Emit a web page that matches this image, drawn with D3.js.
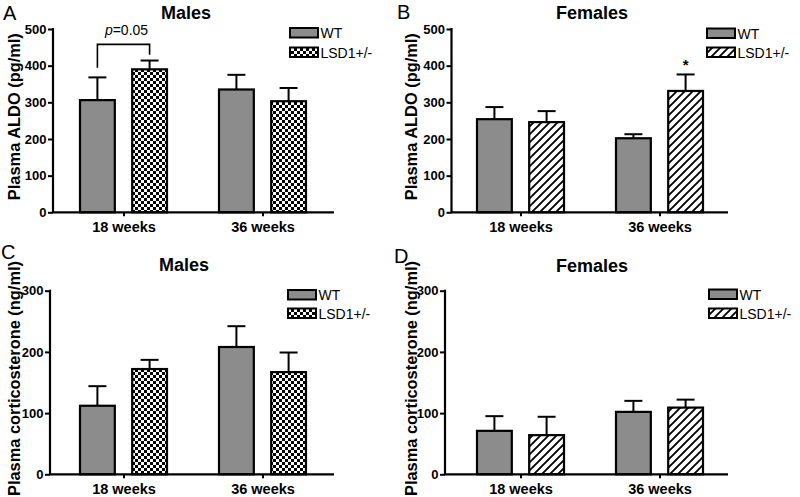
<!DOCTYPE html>
<html><head><meta charset="utf-8">
<script src="https://cdn.jsdelivr.net/npm/d3@7"></script>
<style>
html,body{margin:0;padding:0;background:#fff;}
svg{display:block;font-family:"Liberation Sans",Arial,sans-serif;}
</style></head>
<body>
<svg id="chart" width="800" height="497"></svg>
<script>
// ---- data ----
const categories = ["18 weeks", "36 weeks"];
const groups = ["WT", "LSD1+/-"];
const aldoTicks = [0, 100, 200, 300, 400, 500];
const corticoTicks = [0, 100, 200, 300];

const aldoMalesWT = [306, 335];
const aldoMalesWTErr = [62, 40];
const aldoMalesLSD = [390, 303];
const aldoMalesLSDErr = [24, 36];

const aldoFemalesWT = [254, 202];
const aldoFemalesWTErr = [33, 11];
const aldoFemalesLSD = [246, 331];
const aldoFemalesLSDErr = [30, 45];

const corticoMalesWT = [112, 208];
const corticoMalesWTErr = [32, 34];
const corticoMalesLSD = [172, 167];
const corticoMalesLSDErr = [15, 32];

const corticoFemalesWT = [71, 102];
const corticoFemalesWTErr = [24, 18];
const corticoFemalesLSD = [64, 109];
const corticoFemalesLSDErr = [30, 13];

// significance bracket panel A (values): top, left leg end, right leg end
const bracketA = {top: 458, left: 394, right: 430, label: "0.05"};

// ---- drawing ----
const svg = d3.select("#chart");
const defs = svg.append("defs");

// checker pattern
const chk = defs.append("pattern").attr("id", "checker")
  .attr("patternUnits", "userSpaceOnUse").attr("width", 6).attr("height", 6);
chk.append("rect").attr("width", 6).attr("height", 6).attr("fill", "#fff");
chk.append("rect").attr("width", 3).attr("height", 3).attr("fill", "#000");
chk.append("rect").attr("x", 3).attr("y", 3).attr("width", 3).attr("height", 3).attr("fill", "#000");

// hatch pattern
const hs = 8;
const hat = defs.append("pattern").attr("id", "hatch")
  .attr("patternUnits", "userSpaceOnUse").attr("width", hs).attr("height", hs);
hat.append("rect").attr("width", hs).attr("height", hs).attr("fill", "#fff");
hat.append("path").attr("d", `M0,${hs} L${hs},0 M-2,2 L2,-2 M${hs-2},${hs+2} L${hs+2},${hs-2}`)
  .attr("stroke", "#000").attr("stroke-width", 1.9);

const GRAY = "#8c8c8c";

const panels = [
  {letter: "A", lx: 3, ly: 20, title: "Males", tx: 186, ty: 19,
   ylabel: "Plasma ALDO (pg/ml)", ylx: 20, yaxis: 53, xr: [54, 332], xend: 334,
   yr: [212.3, 29], domain: [0, 500], ticks: aldoTicks,
   wt: aldoMalesWT, wtErr: aldoMalesWTErr, lsd: aldoMalesLSD, lsdErr: aldoMalesLSDErr,
   pat: "checker", legX: 290, legY: [28, 47.5], bracket: bracketA},
  {letter: "B", lx: 397, ly: 19, title: "Females", tx: 592, ty: 19,
   ylabel: "Plasma ALDO (pg/ml)", ylx: 417, yaxis: 451.5, xr: [451, 729], xend: 728,
   yr: [212.3, 29], domain: [0, 500], ticks: aldoTicks,
   wt: aldoFemalesWT, wtErr: aldoFemalesWTErr, lsd: aldoFemalesLSD, lsdErr: aldoFemalesLSDErr,
   pat: "hatch", legX: 707, legY: [28.5, 47.5], star: 1},
  {letter: "C", lx: 1, ly: 259, title: "Males", tx: 184, ty: 270.5,
   ylabel: "Plasma corticosterone (ng/ml)", ylx: 20, yaxis: 50, xr: [54, 332], xend: 334,
   yr: [474.3, 290.7], domain: [0, 300], ticks: corticoTicks,
   wt: corticoMalesWT, wtErr: corticoMalesWTErr, lsd: corticoMalesLSD, lsdErr: corticoMalesLSDErr,
   pat: "checker", legX: 288, legY: [290, 308.5]},
  {letter: "D", lx: 394, ly: 263, title: "Females", tx: 592, ty: 272,
   ylabel: "Plasma corticosterone (ng/ml)", ylx: 417, yaxis: 445, xr: [451, 729], xend: 728,
   yr: [474.3, 290.7], domain: [0, 300], ticks: corticoTicks,
   wt: corticoFemalesWT, wtErr: corticoFemalesWTErr, lsd: corticoFemalesLSD, lsdErr: corticoFemalesLSDErr,
   pat: "hatch", legX: 709, legY: [289.5, 308.5]}
];

panels.forEach(p => {
  const g = svg.append("g");
  const x = d3.scalePoint().domain(categories).range(p.xr).padding(0.5);
  const xi = d3.scaleBand().domain(groups).range([-43.5, 43.5]).paddingInner(0.333);
  const y = d3.scaleLinear().domain(p.domain).range(p.yr);

  // panel letter
  g.append("text").attr("x", p.lx).attr("y", p.ly).attr("font-size", 20).text(p.letter);
  // title
  g.append("text").attr("x", p.tx).attr("y", p.ty).attr("text-anchor", "middle")
    .attr("font-size", 18).attr("font-weight", "bold").text(p.title);
  // y label
  g.append("text").attr("transform", `translate(${p.ylx},${(p.yr[0] + p.yr[1]) / 2 - 4}) rotate(-90)`)
    .attr("text-anchor", "middle").attr("font-size", 16.4).attr("font-weight", "bold").text(p.ylabel);

  // bars
  const series = [
    {key: groups[0], vals: p.wt, errs: p.wtErr, fill: GRAY},
    {key: groups[1], vals: p.lsd, errs: p.lsdErr, fill: `url(#${p.pat})`}
  ];
  series.forEach(s => {
    categories.forEach((c, i) => {
      const bx = x(c) + xi(s.key);
      const bw = xi.bandwidth();
      const cx = bx + bw / 2;
      // error bar
      g.append("line").attr("x1", cx).attr("x2", cx).attr("y1", y(s.vals[i])).attr("y2", y(s.vals[i] + s.errs[i]))
        .attr("stroke", "#000").attr("stroke-width", 2);
      g.append("line").attr("x1", cx - 9).attr("x2", cx + 9).attr("y1", y(s.vals[i] + s.errs[i])).attr("y2", y(s.vals[i] + s.errs[i]))
        .attr("stroke", "#000").attr("stroke-width", 2);
      g.append("rect").attr("x", bx).attr("y", y(s.vals[i])).attr("width", bw)
        .attr("height", y(0) - y(s.vals[i])).attr("fill", s.fill).attr("stroke", "#000").attr("stroke-width", 2.2);
    });
  });

  // y axis
  const ya = g.append("g").attr("transform", `translate(${p.yaxis},0)`)
    .call(d3.axisLeft(y).tickValues(p.ticks).tickSize(5).tickPadding(1.5).tickSizeOuter(0));
  ya.select(".domain").attr("stroke-width", 2.2).attr("d", `M0,${y(0)}V${y(p.domain[1]) - 1}`);
  ya.selectAll(".tick line").attr("stroke-width", 2);
  ya.selectAll("text").attr("font-size", 13).attr("font-weight", "bold")
    .attr("font-family", "'Liberation Sans',Arial,sans-serif").attr("fill", "#000");

  // x axis
  const xa = g.append("g").attr("transform", `translate(0,${y(0)})`)
    .call(d3.axisBottom(x).tickSize(4).tickPadding(5).tickSizeOuter(0));
  xa.select(".domain").attr("stroke-width", 2.2).attr("d", `M${p.yaxis - 1},0H${p.xend}`);
  xa.selectAll(".tick line").attr("stroke-width", 2);
  xa.selectAll("text").attr("font-size", 14.5).attr("font-weight", "bold")
    .attr("font-family", "'Liberation Sans',Arial,sans-serif").attr("fill", "#000");

  // legend
  series.forEach((s, i) => {
    const ly = p.legY[i];
    g.append("rect").attr("x", p.legX).attr("y", ly).attr("width", 28).attr("height", 9.5)
      .attr("fill", s.fill).attr("stroke", "#000").attr("stroke-width", 2);
    g.append("text").attr("x", p.legX + 30.5).attr("y", ly + 10).attr("font-size", 14).text(s.key);
  });

  // bracket
  if (p.bracket) {
    const b = p.bracket;
    const x1 = x(categories[0]) + xi(groups[0]) + xi.bandwidth() / 2;
    const x2 = x(categories[0]) + xi(groups[1]) + xi.bandwidth() / 2;
    g.append("path").attr("d", `M${x1},${y(b.left)}V${y(b.top)}H${x2}V${y(b.right)}`)
      .attr("fill", "none").attr("stroke", "#000").attr("stroke-width", 1.6);
    const t = g.append("text").attr("x", (x1 + x2) / 2 + 3).attr("y", y(b.top) - 9.5)
      .attr("text-anchor", "middle").attr("font-size", 14);
    t.append("tspan").attr("font-style", "italic").text("p");
    t.append("tspan").text("=" + b.label);
  }
  // star
  if (p.star !== undefined) {
    const cx = x(categories[p.star]) + xi(groups[1]) + xi.bandwidth() / 2;
    const top = p.lsd[p.star] + p.lsdErr[p.star];
    g.append("text").attr("x", cx).attr("y", y(top) - 4.5).attr("text-anchor", "middle")
      .attr("font-size", 15).attr("font-weight", "bold").text("*");
  }
});
</script>
</body></html>
